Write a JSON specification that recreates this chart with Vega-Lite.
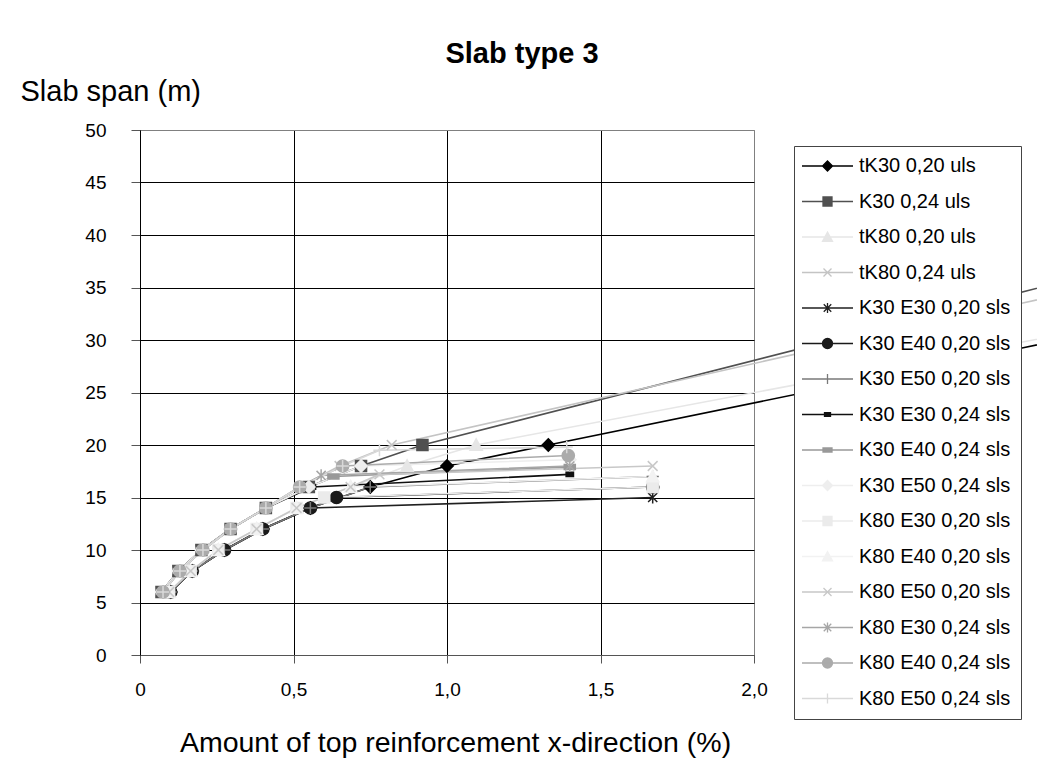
{
  "$schema": "https://vega.github.io/schema/vega-lite/v6.json",
  "width": 614,
  "height": 525,
  "autosize": {"type": "none"},
  "padding": {"left": 140, "top": 130, "right": 283, "bottom": 120},
  "background": "white",
  "config": {
    "font": "Liberation Sans",
    "view": {"stroke": "#808080", "strokeWidth": 1},
    "axis": {"labelFont": "Liberation Sans", "titleFont": "Liberation Sans", "labelColor": "#000", "titleColor": "#000", "titleFontWeight": "normal"},
    "legend": {"orient": "none", "legendX": 654, "legendY": 16, "title": null, "fillColor": "#ffffff", "strokeColor": "#444444",
      "padding": 10, "rowPadding": 15.5, "labelFontSize": 20, "labelFont": "Liberation Sans", "labelColor": "#000", "labelLimit": 0,
      "symbolSize": 100, "symbolOffset": 13.5, "labelOffset": 21.5, "symbolStrokeWidth": 1.3}
  },
  "title": {"text": "Slab type 3", "fontSize": 29, "fontWeight": "bold", "font": "Liberation Sans", "color": "#000", "anchor": "middle", "frame": "group", "dx": 75, "offset": 8},
  "data": {"values": [
    {"s": "tK30 0,20 uls", "x": 0.1, "y": 6}, {"s": "tK30 0,20 uls", "x": 0.17, "y": 8}, {"s": "tK30 0,20 uls", "x": 0.275, "y": 10}, {"s": "tK30 0,20 uls", "x": 0.4, "y": 12}, {"s": "tK30 0,20 uls", "x": 0.555, "y": 14}, {"s": "tK30 0,20 uls", "x": 0.75, "y": 16}, {"s": "tK30 0,20 uls", "x": 1.0, "y": 18}, {"s": "tK30 0,20 uls", "x": 1.33, "y": 20}, {"s": "tK30 0,20 uls", "x": 3.0, "y": 30},
    {"s": "K30 0,24 uls", "x": 0.07, "y": 6}, {"s": "K30 0,24 uls", "x": 0.125, "y": 8}, {"s": "K30 0,24 uls", "x": 0.2, "y": 10}, {"s": "K30 0,24 uls", "x": 0.295, "y": 12}, {"s": "K30 0,24 uls", "x": 0.41, "y": 14}, {"s": "K30 0,24 uls", "x": 0.55, "y": 16}, {"s": "K30 0,24 uls", "x": 0.72, "y": 18}, {"s": "K30 0,24 uls", "x": 0.92, "y": 20}, {"s": "K30 0,24 uls", "x": 3.2, "y": 37},
    {"s": "tK80 0,20 uls", "x": 0.095, "y": 6}, {"s": "tK80 0,20 uls", "x": 0.165, "y": 8}, {"s": "tK80 0,20 uls", "x": 0.255, "y": 10}, {"s": "tK80 0,20 uls", "x": 0.38, "y": 12}, {"s": "tK80 0,20 uls", "x": 0.51, "y": 14}, {"s": "tK80 0,20 uls", "x": 0.686, "y": 16}, {"s": "tK80 0,20 uls", "x": 0.87, "y": 18}, {"s": "tK80 0,20 uls", "x": 1.095, "y": 20}, {"s": "tK80 0,20 uls", "x": 3.0, "y": 30.5},
    {"s": "tK80 0,24 uls", "x": 0.075, "y": 6}, {"s": "tK80 0,24 uls", "x": 0.13, "y": 8}, {"s": "tK80 0,24 uls", "x": 0.205, "y": 10}, {"s": "tK80 0,24 uls", "x": 0.295, "y": 12}, {"s": "tK80 0,24 uls", "x": 0.41, "y": 14}, {"s": "tK80 0,24 uls", "x": 0.52, "y": 16}, {"s": "tK80 0,24 uls", "x": 0.65, "y": 18}, {"s": "tK80 0,24 uls", "x": 0.82, "y": 20}, {"s": "tK80 0,24 uls", "x": 3.1, "y": 35},
    {"s": "K30 E30 0,20 sls", "x": 0.1, "y": 6}, {"s": "K30 E30 0,20 sls", "x": 0.17, "y": 8}, {"s": "K30 E30 0,20 sls", "x": 0.275, "y": 10}, {"s": "K30 E30 0,20 sls", "x": 0.4, "y": 12}, {"s": "K30 E30 0,20 sls", "x": 0.555, "y": 14}, {"s": "K30 E30 0,20 sls", "x": 1.67, "y": 15},
    {"s": "K30 E40 0,20 sls", "x": 0.1, "y": 6}, {"s": "K30 E40 0,20 sls", "x": 0.17, "y": 8}, {"s": "K30 E40 0,20 sls", "x": 0.275, "y": 10}, {"s": "K30 E40 0,20 sls", "x": 0.4, "y": 12}, {"s": "K30 E40 0,20 sls", "x": 0.555, "y": 14}, {"s": "K30 E40 0,20 sls", "x": 0.64, "y": 15}, {"s": "K30 E40 0,20 sls", "x": 1.67, "y": 16},
    {"s": "K30 E50 0,20 sls", "x": 0.1, "y": 6}, {"s": "K30 E50 0,20 sls", "x": 0.17, "y": 8}, {"s": "K30 E50 0,20 sls", "x": 0.275, "y": 10}, {"s": "K30 E50 0,20 sls", "x": 0.4, "y": 12}, {"s": "K30 E50 0,20 sls", "x": 0.555, "y": 14}, {"s": "K30 E50 0,20 sls", "x": 0.75, "y": 16}, {"s": "K30 E50 0,20 sls", "x": 1.67, "y": 17},
    {"s": "K30 E30 0,24 sls", "x": 0.07, "y": 6}, {"s": "K30 E30 0,24 sls", "x": 0.125, "y": 8}, {"s": "K30 E30 0,24 sls", "x": 0.2, "y": 10}, {"s": "K30 E30 0,24 sls", "x": 0.295, "y": 12}, {"s": "K30 E30 0,24 sls", "x": 0.41, "y": 14}, {"s": "K30 E30 0,24 sls", "x": 0.56, "y": 16}, {"s": "K30 E30 0,24 sls", "x": 1.4, "y": 17.2},
    {"s": "K30 E40 0,24 sls", "x": 0.07, "y": 6}, {"s": "K30 E40 0,24 sls", "x": 0.125, "y": 8}, {"s": "K30 E40 0,24 sls", "x": 0.2, "y": 10}, {"s": "K30 E40 0,24 sls", "x": 0.295, "y": 12}, {"s": "K30 E40 0,24 sls", "x": 0.41, "y": 14}, {"s": "K30 E40 0,24 sls", "x": 0.55, "y": 16}, {"s": "K30 E40 0,24 sls", "x": 0.63, "y": 17}, {"s": "K30 E40 0,24 sls", "x": 1.4, "y": 17.9},
    {"s": "K30 E50 0,24 sls", "x": 0.07, "y": 6}, {"s": "K30 E50 0,24 sls", "x": 0.125, "y": 8}, {"s": "K30 E50 0,24 sls", "x": 0.2, "y": 10}, {"s": "K30 E50 0,24 sls", "x": 0.295, "y": 12}, {"s": "K30 E50 0,24 sls", "x": 0.41, "y": 14}, {"s": "K30 E50 0,24 sls", "x": 0.55, "y": 16}, {"s": "K30 E50 0,24 sls", "x": 0.72, "y": 18}, {"s": "K30 E50 0,24 sls", "x": 1.4, "y": 18.6},
    {"s": "K80 E30 0,20 sls", "x": 0.095, "y": 6}, {"s": "K80 E30 0,20 sls", "x": 0.165, "y": 8}, {"s": "K80 E30 0,20 sls", "x": 0.255, "y": 10}, {"s": "K80 E30 0,20 sls", "x": 0.38, "y": 12}, {"s": "K80 E30 0,20 sls", "x": 0.51, "y": 14}, {"s": "K80 E30 0,20 sls", "x": 0.6, "y": 15}, {"s": "K80 E30 0,20 sls", "x": 1.67, "y": 16},
    {"s": "K80 E40 0,20 sls", "x": 0.095, "y": 6}, {"s": "K80 E40 0,20 sls", "x": 0.165, "y": 8}, {"s": "K80 E40 0,20 sls", "x": 0.255, "y": 10}, {"s": "K80 E40 0,20 sls", "x": 0.38, "y": 12}, {"s": "K80 E40 0,20 sls", "x": 0.51, "y": 14}, {"s": "K80 E40 0,20 sls", "x": 0.686, "y": 16}, {"s": "K80 E40 0,20 sls", "x": 1.67, "y": 17},
    {"s": "K80 E50 0,20 sls", "x": 0.095, "y": 6}, {"s": "K80 E50 0,20 sls", "x": 0.165, "y": 8}, {"s": "K80 E50 0,20 sls", "x": 0.255, "y": 10}, {"s": "K80 E50 0,20 sls", "x": 0.38, "y": 12}, {"s": "K80 E50 0,20 sls", "x": 0.51, "y": 14}, {"s": "K80 E50 0,20 sls", "x": 0.686, "y": 16}, {"s": "K80 E50 0,20 sls", "x": 0.78, "y": 17.2}, {"s": "K80 E50 0,20 sls", "x": 1.67, "y": 18},
    {"s": "K80 E30 0,24 sls", "x": 0.075, "y": 6}, {"s": "K80 E30 0,24 sls", "x": 0.13, "y": 8}, {"s": "K80 E30 0,24 sls", "x": 0.205, "y": 10}, {"s": "K80 E30 0,24 sls", "x": 0.295, "y": 12}, {"s": "K80 E30 0,24 sls", "x": 0.41, "y": 14}, {"s": "K80 E30 0,24 sls", "x": 0.52, "y": 16}, {"s": "K80 E30 0,24 sls", "x": 0.59, "y": 17.1}, {"s": "K80 E30 0,24 sls", "x": 1.4, "y": 18},
    {"s": "K80 E40 0,24 sls", "x": 0.075, "y": 6}, {"s": "K80 E40 0,24 sls", "x": 0.13, "y": 8}, {"s": "K80 E40 0,24 sls", "x": 0.205, "y": 10}, {"s": "K80 E40 0,24 sls", "x": 0.295, "y": 12}, {"s": "K80 E40 0,24 sls", "x": 0.41, "y": 14}, {"s": "K80 E40 0,24 sls", "x": 0.52, "y": 16}, {"s": "K80 E40 0,24 sls", "x": 0.66, "y": 18}, {"s": "K80 E40 0,24 sls", "x": 1.395, "y": 19},
    {"s": "K80 E50 0,24 sls", "x": 0.075, "y": 6}, {"s": "K80 E50 0,24 sls", "x": 0.13, "y": 8}, {"s": "K80 E50 0,24 sls", "x": 0.205, "y": 10}, {"s": "K80 E50 0,24 sls", "x": 0.295, "y": 12}, {"s": "K80 E50 0,24 sls", "x": 0.41, "y": 14}, {"s": "K80 E50 0,24 sls", "x": 0.52, "y": 16}, {"s": "K80 E50 0,24 sls", "x": 0.66, "y": 18}, {"s": "K80 E50 0,24 sls", "x": 0.78, "y": 19.5}, {"s": "K80 E50 0,24 sls", "x": 1.39, "y": 19.8}
  ]},
  "encoding": {
    "x": {"field": "x", "type": "quantitative", "scale": {"domain": [0, 2], "nice": false},
      "axis": {"values": [0, 0.5, 1, 1.5, 2], "labelExpr": "datum.value == 0 ? '0' : replace(format(datum.value, '.1f'), '.', ',')",
        "labelFlush": false, "labelOverlap": false, "labelDx": -7,
        "grid": true, "gridColor": {"condition": {"test": "datum.value == 2", "value": "#808080"}, "value": "#000000"}, "gridOpacity": 1,
        "tickSize": 8, "tickColor": "#555555", "domainColor": "#555555", "labelFontSize": 19, "labelPadding": 17,
        "title": "Amount of top reinforcement x-direction (%)", "titleFontSize": 28.5, "titleX": 315, "titleY": 96, "titleBaseline": "alphabetic"}},
    "y": {"field": "y", "type": "quantitative", "scale": {"domain": [0, 50], "nice": false},
      "axis": {"values": [0, 5, 10, 15, 20, 25, 30, 35, 40, 45, 50],
        "grid": true, "gridColor": {"condition": {"test": "datum.value == 50", "value": "#808080"}, "value": "#000000"}, "gridOpacity": 1,
        "tickSize": 9, "tickColor": "#555555", "domainColor": "#000000", "labelFontSize": 19, "labelPadding": 25,
        "title": "Slab span (m)", "titleFontSize": 29, "titleAngle": 0, "titleX": -120, "titleY": -30, "titleAlign": "left", "titleBaseline": "alphabetic"}}
  },
  "layer": [
    {"mark": {"type": "line", "strokeWidth": 1.6, "clip": false},
      "encoding": {
        "color": {"field": "s", "type": "nominal", "legend": null, "scale": {
          "domain": ["tK30 0,20 uls", "K30 0,24 uls", "tK80 0,20 uls", "tK80 0,24 uls", "K30 E30 0,20 sls", "K30 E40 0,20 sls", "K30 E50 0,20 sls", "K30 E30 0,24 sls", "K30 E40 0,24 sls", "K30 E50 0,24 sls", "K80 E30 0,20 sls", "K80 E40 0,20 sls", "K80 E50 0,20 sls", "K80 E30 0,24 sls", "K80 E40 0,24 sls", "K80 E50 0,24 sls"],
          "range": ["#000000", "#505050", "#e6e6e6", "#c4c4c4", "#202020", "#1a1a1a", "#7a7a7a", "#101010", "#999999", "#eeeeee", "#ebebeb", "#f2f2f2", "#c8c8c8", "#a6a6a6", "#ababab", "#d9d9d9"]}}
      }},
    {"mark": {"type": "point", "filled": true, "size": 150, "strokeWidth": 1.5, "opacity": 1, "clip": false},
      "encoding": {
        "color": {"field": "s", "type": "nominal", "legend": null, "scale": {
          "domain": ["tK30 0,20 uls", "K30 0,24 uls", "tK80 0,20 uls", "tK80 0,24 uls", "K30 E30 0,20 sls", "K30 E40 0,20 sls", "K30 E50 0,20 sls", "K30 E30 0,24 sls", "K30 E40 0,24 sls", "K30 E50 0,24 sls", "K80 E30 0,20 sls", "K80 E40 0,20 sls", "K80 E50 0,20 sls", "K80 E30 0,24 sls", "K80 E40 0,24 sls", "K80 E50 0,24 sls"],
          "range": ["#000000", "#505050", "#e6e6e6", "#c4c4c4", "#202020", "#1a1a1a", "#7a7a7a", "#101010", "#999999", "#eeeeee", "#ebebeb", "#f2f2f2", "#c8c8c8", "#a6a6a6", "#ababab", "#d9d9d9"]}},
        "stroke": {"field": "s", "type": "nominal", "legend": null, "scale": {
          "domain": ["tK30 0,20 uls", "K30 0,24 uls", "tK80 0,20 uls", "tK80 0,24 uls", "K30 E30 0,20 sls", "K30 E40 0,20 sls", "K30 E50 0,20 sls", "K30 E30 0,24 sls", "K30 E40 0,24 sls", "K30 E50 0,24 sls", "K80 E30 0,20 sls", "K80 E40 0,20 sls", "K80 E50 0,20 sls", "K80 E30 0,24 sls", "K80 E40 0,24 sls", "K80 E50 0,24 sls"],
          "range": ["#000000", "#505050", "#e6e6e6", "#c4c4c4", "#202020", "#1a1a1a", "#7a7a7a", "#101010", "#999999", "#eeeeee", "#ebebeb", "#f2f2f2", "#c8c8c8", "#a6a6a6", "#ababab", "#d9d9d9"]}},
        "shape": {"field": "s", "type": "nominal", "legend": null, "scale": {
          "domain": ["tK30 0,20 uls", "K30 0,24 uls", "tK80 0,20 uls", "tK80 0,24 uls", "K30 E30 0,20 sls", "K30 E40 0,20 sls", "K30 E50 0,20 sls", "K30 E30 0,24 sls", "K30 E40 0,24 sls", "K30 E50 0,24 sls", "K80 E30 0,20 sls", "K80 E40 0,20 sls", "K80 E50 0,20 sls", "K80 E30 0,24 sls", "K80 E40 0,24 sls", "K80 E50 0,24 sls"],
          "range": [
            "M0,-1L1,0L0,1L-1,0Z",
            "M-0.9,-0.9L0.9,-0.9L0.9,0.9L-0.9,0.9Z",
            "M0,-1L1,0.85L-1,0.85Z",
            "M-0.8,-0.8L0.8,0.8M-0.8,0.8L0.8,-0.8",
            "M-0.75,-0.75L0.75,0.75M-0.75,0.75L0.75,-0.75M0,-1L0,1",
            "M1,0A1,1,0,1,1,-1,0A1,1,0,1,1,1,0Z",
            "M-1,0L1,0M0,-1L0,1",
            "M-0.6,-0.35L0.6,-0.35L0.6,0.35L-0.6,0.35Z",
            "M-0.9,-0.4L0.9,-0.4L0.9,0.4L-0.9,0.4Z",
            "M0,-1L1,0L0,1L-1,0Z",
            "M-0.9,-0.9L0.9,-0.9L0.9,0.9L-0.9,0.9Z",
            "M0,-1L1,0.85L-1,0.85Z",
            "M-0.8,-0.8L0.8,0.8M-0.8,0.8L0.8,-0.8",
            "M-0.75,-0.75L0.75,0.75M-0.75,0.75L0.75,-0.75M0,-1L0,1",
            "M1,0A1,1,0,1,1,-1,0A1,1,0,1,1,1,0Z",
            "M-1,0L1,0M0,-1L0,1"]}}
      }},
    {"transform": [{"filter": "false"}],
      "mark": {"type": "point", "filled": true, "strokeWidth": 1.3, "opacity": 1},
      "encoding": {
        "color": {"field": "s", "type": "nominal", "scale": {
          "domain": ["tK30 0,20 uls", "K30 0,24 uls", "tK80 0,20 uls", "tK80 0,24 uls", "K30 E30 0,20 sls", "K30 E40 0,20 sls", "K30 E50 0,20 sls", "K30 E30 0,24 sls", "K30 E40 0,24 sls", "K30 E50 0,24 sls", "K80 E30 0,20 sls", "K80 E40 0,20 sls", "K80 E50 0,20 sls", "K80 E30 0,24 sls", "K80 E40 0,24 sls", "K80 E50 0,24 sls"],
          "range": ["#000000", "#505050", "#e6e6e6", "#c4c4c4", "#202020", "#1a1a1a", "#7a7a7a", "#101010", "#999999", "#eeeeee", "#ebebeb", "#f2f2f2", "#c8c8c8", "#a6a6a6", "#ababab", "#d9d9d9"]},
          "legend": {"orient": "none", "legendX": 654, "legendY": 16, "title": null, "labelExpr": "datum.label + '\u00a0\u00a0\u00a0'"}},
        "stroke": {"field": "s", "type": "nominal", "scale": {
          "domain": ["tK30 0,20 uls", "K30 0,24 uls", "tK80 0,20 uls", "tK80 0,24 uls", "K30 E30 0,20 sls", "K30 E40 0,20 sls", "K30 E50 0,20 sls", "K30 E30 0,24 sls", "K30 E40 0,24 sls", "K30 E50 0,24 sls", "K80 E30 0,20 sls", "K80 E40 0,20 sls", "K80 E50 0,20 sls", "K80 E30 0,24 sls", "K80 E40 0,24 sls", "K80 E50 0,24 sls"],
          "range": ["#000000", "#505050", "#e6e6e6", "#c4c4c4", "#202020", "#1a1a1a", "#7a7a7a", "#101010", "#999999", "#eeeeee", "#ebebeb", "#f2f2f2", "#c8c8c8", "#a6a6a6", "#ababab", "#d9d9d9"]},
          "legend": {"orient": "none", "legendX": 654, "legendY": 16, "title": null, "labelExpr": "datum.label + '\u00a0\u00a0\u00a0'"}},
        "shape": {"field": "s", "type": "nominal", "scale": {
          "domain": ["tK30 0,20 uls", "K30 0,24 uls", "tK80 0,20 uls", "tK80 0,24 uls", "K30 E30 0,20 sls", "K30 E40 0,20 sls", "K30 E50 0,20 sls", "K30 E30 0,24 sls", "K30 E40 0,24 sls", "K30 E50 0,24 sls", "K80 E30 0,20 sls", "K80 E40 0,20 sls", "K80 E50 0,20 sls", "K80 E30 0,24 sls", "K80 E40 0,24 sls", "K80 E50 0,24 sls"],
          "range": [
            "M-5.1,0L5.1,0M0,-1L1,0L0,1L-1,0Z",
            "M-5.1,0L5.1,0M-0.9,-0.9L0.9,-0.9L0.9,0.9L-0.9,0.9Z",
            "M-5.1,0L5.1,0M0,-1L1,0.85L-1,0.85Z",
            "M-5.1,0L5.1,0M-0.8,-0.8L0.8,0.8M-0.8,0.8L0.8,-0.8",
            "M-5.1,0L5.1,0M-0.75,-0.75L0.75,0.75M-0.75,0.75L0.75,-0.75M0,-1L0,1",
            "M-5.1,0L5.1,0M1,0A1,1,0,1,1,-1,0A1,1,0,1,1,1,0Z",
            "M-5.1,0L5.1,0M0,-1L0,1",
            "M-5.1,0L5.1,0M-0.6,-0.35L0.6,-0.35L0.6,0.35L-0.6,0.35Z",
            "M-5.1,0L5.1,0M-0.9,-0.4L0.9,-0.4L0.9,0.4L-0.9,0.4Z",
            "M-5.1,0L5.1,0M0,-1L1,0L0,1L-1,0Z",
            "M-5.1,0L5.1,0M-0.9,-0.9L0.9,-0.9L0.9,0.9L-0.9,0.9Z",
            "M-5.1,0L5.1,0M0,-1L1,0.85L-1,0.85Z",
            "M-5.1,0L5.1,0M-0.8,-0.8L0.8,0.8M-0.8,0.8L0.8,-0.8",
            "M-5.1,0L5.1,0M-0.75,-0.75L0.75,0.75M-0.75,0.75L0.75,-0.75M0,-1L0,1",
            "M-5.1,0L5.1,0M1,0A1,1,0,1,1,-1,0A1,1,0,1,1,1,0Z",
            "M-5.1,0L5.1,0M0,-1L0,1"]},
          "legend": {"orient": "none", "legendX": 654, "legendY": 16, "title": null, "labelExpr": "datum.label + '\u00a0\u00a0\u00a0'"}}
      }}
  ],
  "resolve": {"scale": {"color": "independent", "stroke": "independent", "shape": "independent"}}
}
